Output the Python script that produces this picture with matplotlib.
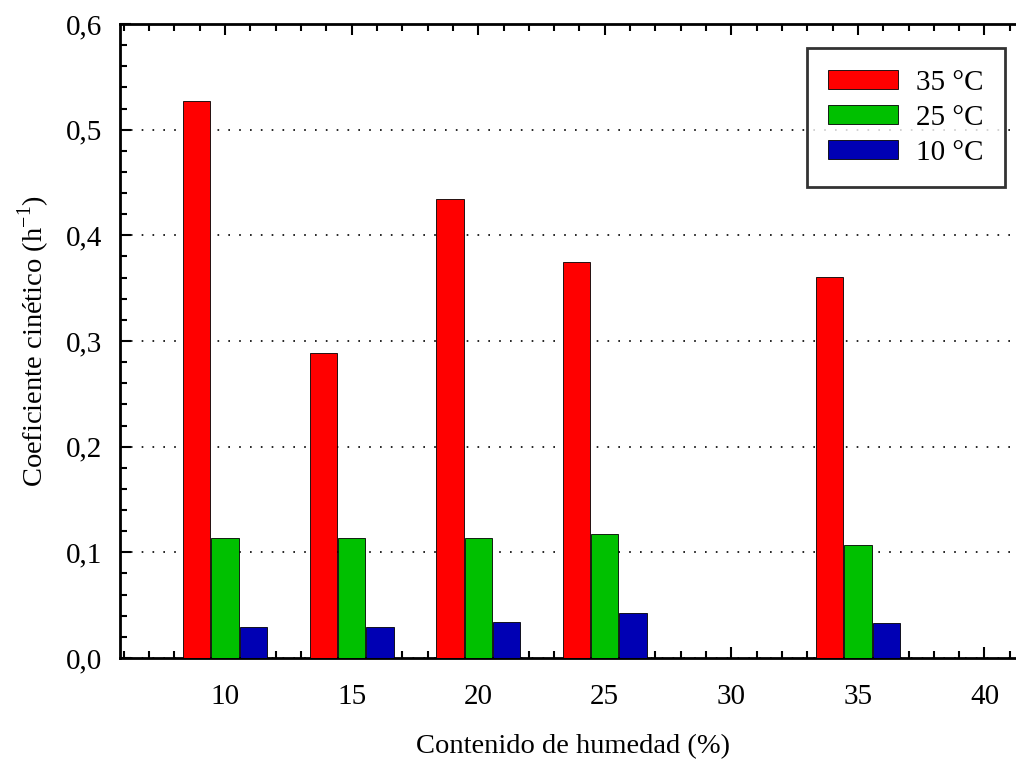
import matplotlib
matplotlib.use('Agg')
import matplotlib.pyplot as plt
from matplotlib.ticker import MultipleLocator, FuncFormatter
import numpy as np

# ── data ─────────────────────────────────────────────────────────────────────
humedad = [10, 15, 20, 25, 35]
k_35 = [0.527, 0.289, 0.434, 0.375, 0.361]
k_25 = [0.114, 0.114, 0.114, 0.117, 0.107]
k_10 = [0.029, 0.029, 0.034, 0.043, 0.033]
series_labels = ['35 °C', '25 °C', '10 °C']

# ── style ────────────────────────────────────────────────────────────────────
RED   = '#ff0000'
GREEN = '#00c000'
BLUE  = '#0000b4'
FS    = 21
plt.rcParams['font.family'] = ['Liberation Serif', 'DejaVu Serif']
plt.rcParams['mathtext.fontset'] = 'custom'
plt.rcParams['mathtext.rm'] = 'Liberation Serif'

fig = plt.figure(figsize=(10.16, 7.62), dpi=100)
# right edge of the frame sits just past the figure border
ax = fig.add_axes([120 / 1016, 1 - 658 / 762, 905 / 1016, 634 / 762])

x = np.array(humedad, dtype=float)
w, off = 1.08, 1.12
ax.bar(x - off, k_35, width=w, color=RED,   edgecolor='black', lw=0.6, label=series_labels[0], zorder=3)
ax.bar(x,       k_25, width=w, color=GREEN, edgecolor='black', lw=0.6, label=series_labels[1], zorder=3)
ax.bar(x + off, k_10, width=w, color=BLUE,  edgecolor='black', lw=0.6, label=series_labels[2], zorder=3)

ax.set_xlim(5.85, 41.6)
ax.set_ylim(0, 0.6)
ax.xaxis.set_major_locator(MultipleLocator(5))
ax.xaxis.set_minor_locator(MultipleLocator(1))
ax.yaxis.set_major_locator(MultipleLocator(0.1))
ax.yaxis.set_minor_locator(MultipleLocator(0.02))
ax.set_xticks([10, 15, 20, 25, 30, 35, 40])
ax.yaxis.set_major_formatter(FuncFormatter(lambda v, p: f'{v:.1f}'.replace('.', ',')))

ax.tick_params(which='both', direction='in', top=True, right=False, width=1.5,
               labelsize=FS, colors='black')
ax.tick_params(which='major', length=8)
ax.tick_params(which='minor', length=5)
ax.tick_params(axis='y', which='major', pad=13)
ax.tick_params(axis='x', which='major', pad=19)
for sp in ax.spines.values():
    sp.set_linewidth(2)

ax.yaxis.grid(True, which='major', color='black', ls=(0, (1, 5.5)), lw=1.2, zorder=0)

ax.set_xlabel('Contenido de humedad (%)', fontsize=20.5, labelpad=17)
ax.set_ylabel(r'Coeficiente cinético (h$^{\mathregular{-1}}$)', fontsize=20.5, labelpad=10)

leg = ax.legend(loc='upper right', bbox_to_anchor=(1005 / 1016, 1 - 48 / 762),
                bbox_transform=fig.transFigure, fontsize=FS, frameon=True,
                fancybox=False, edgecolor='black', handlelength=2.4,
                handleheight=0.65, handletextpad=0.6, labelspacing=0.31,
                borderpad=0.74, borderaxespad=0)
leg.get_frame().set_linewidth(2)

fig.savefig('out.png', dpi=100, facecolor='white')
